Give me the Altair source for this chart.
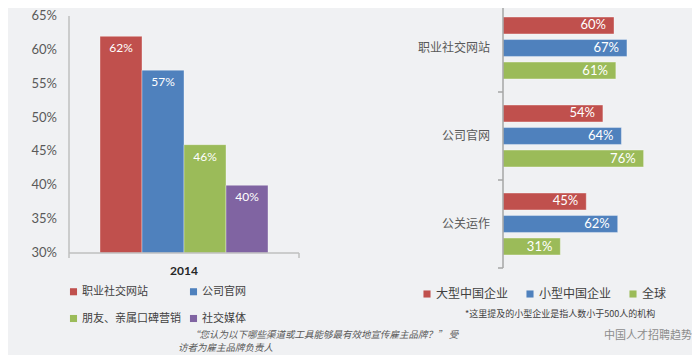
import altair as alt
import pandas as pd

# ---------------- data ----------------
left_year = "2014"
left_categories = ["职业社交网站", "公司官网", "朋友、亲属口碑营销", "社交媒体"]
left_values = [0.62, 0.57, 0.46, 0.40]
left_colors = ["#C0504D", "#4F81BD", "#9BBB59", "#8064A2"]
left_ticks = [0.30, 0.35, 0.40, 0.45, 0.50, 0.55, 0.60, 0.65]
# legend reading order (legend fills column by column)
left_legend_order = ["职业社交网站", "朋友、亲属口碑营销", "公司官网", "社交媒体"]
left_legend_colors = ["#C0504D", "#9BBB59", "#4F81BD", "#8064A2"]

right_groups = ["职业社交网站", "公司官网", "公关运作"]
right_series = ["大型中国企业", "小型中国企业", "全球"]
right_large = [0.60, 0.54, 0.45]
right_small = [0.67, 0.64, 0.62]
right_global = [0.61, 0.76, 0.31]
right_colors = ["#C0504D", "#4F81BD", "#9BBB59"]

note_question_1 = "“您认为以下哪些渠道或工具能够最有效地宣传雇主品牌？”    受"
note_question_2 = "访者为雇主品牌负责人"
note_small = "*这里提及的小型企业是指人数小于500人的机构"
source_text = "中国人才招聘趋势"

CJK = "Noto Sans CJK SC"
NUM = "Lato, Noto Sans CJK SC"
BG = "#F0F1F3"

left_df = pd.DataFrame({"year": [left_year] * len(left_categories),
                        "category": left_categories, "value": left_values})
tick_df = pd.DataFrame({"v": left_ticks})
rows = []
for series, vals in zip(right_series, [right_large, right_small, right_global]):
    for g, v in zip(right_groups, vals):
        rows.append({"group": g, "series": series, "value": v})
right_df = pd.DataFrame(rows)
group_df = pd.DataFrame({"group": right_groups})
one = alt.Data(values=[{"k": 0}])

# ---------------- left chart ----------------
lx = alt.Scale(domain=[left_year], range=[61, 291], paddingInner=0, paddingOuter=0.1845)
lxo = alt.Scale(domain=left_categories, paddingInner=0, paddingOuter=0)
ly = alt.Scale(domain=[0.30, 0.65], range=[245, 8], zero=False, nice=False)

l_bars = alt.Chart(left_df).mark_bar(stroke="#FFFFFF", strokeWidth=0.6, strokeOpacity=0.6).encode(
    x=alt.X("year:N", scale=lx, axis=None),
    xOffset=alt.XOffset("category:N", scale=lxo),
    y=alt.Y("value:Q", scale=ly, axis=None),
    y2=alt.datum(0.30),
    color=alt.Color("category:N",
                    scale=alt.Scale(domain=left_legend_order, range=left_legend_colors),
                    legend=alt.Legend(orient="none", legendX=60, legendY=278, columns=2,
                                      columnPadding=7, rowPadding=15, title=None,
                                      symbolType="square", symbolSize=50, symbolStrokeWidth=0,
                                      labelFont=CJK, labelFontSize=11, labelColor="#404040",
                                      labelOffset=3, padding=0)),
)
l_labels = alt.Chart(left_df).mark_text(dy=12, color="white", fontSize=12, font=NUM).encode(
    x=alt.X("year:N", scale=lx, axis=None),
    xOffset=alt.XOffset("category:N", scale=lxo),
    y=alt.Y("value:Q", scale=ly, axis=None),
    text=alt.Text("value:Q", format=".0%"),
)
l_ticklabels = alt.Chart(tick_df).mark_text(align="right", baseline="middle", fontSize=13,
                                            color="#595959", font=NUM).encode(
    y=alt.Y("v:Q", scale=ly, axis=None),
    x=alt.value(49),
    text=alt.Text("v:Q", format=".0%"),
)
l_yaxis = alt.Chart(one).mark_rule(color="#BFBFBF", strokeWidth=1.5).encode(
    x=alt.value(61), y=alt.datum(0.30), y2=alt.datum(0.65))
l_xaxis = alt.Chart(one).mark_rule(color="#BFBFBF", strokeWidth=1.5).encode(
    x=alt.value(61), x2=alt.value(291), y=alt.datum(0.30))
l_tick_a = alt.Chart(one).mark_rule(color="#BFBFBF", strokeWidth=1.5).encode(
    x=alt.value(61), y=alt.value(245), y2=alt.value(250))
l_tick_b = alt.Chart(one).mark_rule(color="#BFBFBF", strokeWidth=1.5).encode(
    x=alt.value(291), y=alt.value(245), y2=alt.value(250))
l_year = alt.Chart(left_df.head(1)).mark_text(fontSize=12, fontWeight="bold", color="#262626",
                                              font=NUM).encode(
    x=alt.X("year:N", scale=lx, axis=None), y=alt.value(263), text="year:N")

left = alt.layer(l_bars, l_labels, l_ticklabels, l_yaxis, l_xaxis, l_tick_a, l_tick_b, l_year)

# ---------------- right chart ----------------
rx = alt.Scale(domain=[0, 1], range=[495, 680], nice=False)
ry = alt.Scale(domain=right_groups, range=[-4, 260], paddingInner=0, paddingOuter=0)
ryo = alt.Scale(domain=right_series, paddingInner=0.25, paddingOuter=0.58)

r_bars = alt.Chart(right_df).mark_bar(stroke="#FFFFFF", strokeWidth=0.6, strokeOpacity=0.6).encode(
    x=alt.X("value:Q", scale=rx, axis=None),
    x2=alt.datum(0),
    y=alt.Y("group:N", scale=ry, axis=None),
    yOffset=alt.YOffset("series:N", scale=ryo),
    color=alt.Color("series:N",
                    scale=alt.Scale(domain=right_series, range=right_colors),
                    legend=alt.Legend(orient="none", legendX=413, legendY=280, columns=3,
                                      direction="horizontal", columnPadding=15, title=None,
                                      symbolType="square", symbolSize=50, symbolStrokeWidth=0,
                                      labelFont=CJK, labelFontSize=12, labelColor="#404040",
                                      labelOffset=3, padding=0)),
)
r_labels = alt.Chart(right_df).mark_text(align="right", baseline="middle", dx=-8, color="white",
                                         fontSize=13, font=NUM).encode(
    x=alt.X("value:Q", scale=rx, axis=None),
    y=alt.Y("group:N", scale=ry, axis=None),
    yOffset=alt.YOffset("series:N", scale=ryo),
    text=alt.Text("value:Q", format=".0%"),
)
r_cats = alt.Chart(group_df).mark_text(align="right", baseline="middle", fontSize=12,
                                       color="#595959", font=CJK).encode(
    y=alt.Y("group:N", scale=ry, axis=None), x=alt.value(482), text="group:N")
r_axis = alt.Chart(one).mark_rule(color="#A6A6A6", strokeWidth=1.5).encode(
    x=alt.value(495), y=alt.value(-4), y2=alt.value(260))
r_ticks = alt.Chart(group_df).mark_rule(color="#A6A6A6", strokeWidth=1.5).encode(
    y=alt.Y("group:N", scale=ry, axis=None, bandPosition=1),
    x=alt.value(490), x2=alt.value(495))

right = alt.layer(r_bars, r_labels, r_cats, r_axis, r_ticks)

# ---------------- notes ----------------
n1 = alt.Chart(one).mark_text(text=note_question_1, align="left", baseline="middle", fontSize=9.5,
                              fontStyle="italic", color="#595959", font=CJK).encode(
    x=alt.value(182), y=alt.value(327))
n2 = alt.Chart(one).mark_text(text=note_question_2, align="left", baseline="middle", fontSize=9.5,
                              fontStyle="italic", color="#595959", font=CJK).encode(
    x=alt.value(170), y=alt.value(340))
n3 = alt.Chart(one).mark_text(text=note_small, align="left", baseline="middle", fontSize=9,
                              color="#404040", font=CJK).encode(
    x=alt.value(457), y=alt.value(306))
n4 = alt.Chart(one).mark_text(text=source_text, align="right", baseline="middle", fontSize=11,
                              color="#8C8C8C", font=CJK).encode(
    x=alt.value(684), y=alt.value(328))

chart = alt.layer(left, right, n1, n2, n3, n4).resolve_scale(
    x="independent", y="independent", color="independent",
    xOffset="independent", yOffset="independent",
).properties(
    width=684, height=347, padding=0, background=BG,
    autosize=alt.AutoSizeParams(type="none"),
).configure_view(strokeWidth=0)

chart.save("out.html", embed_options={"renderer": "svg", "actions": False})
